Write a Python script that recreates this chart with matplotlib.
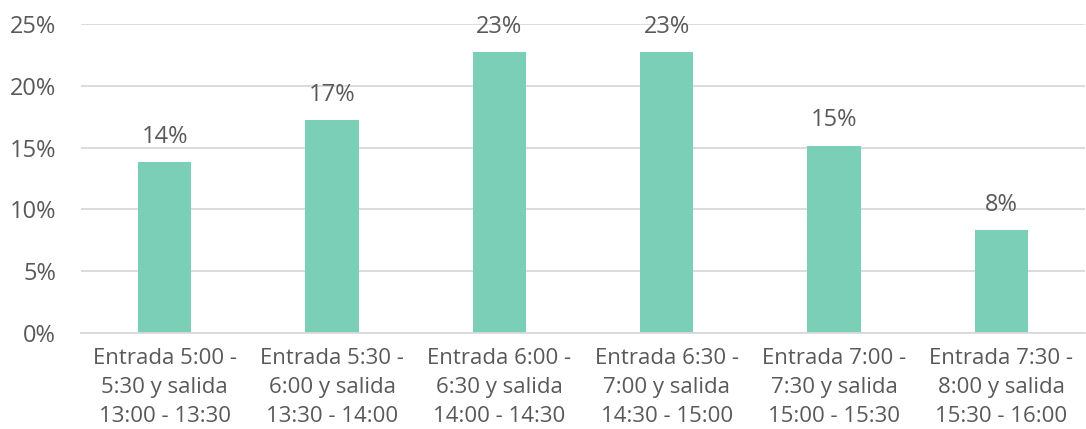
import matplotlib.pyplot as plt

plt.rcParams['font.family'] = ['Open Sans', 'DejaVu Sans']

# share of workers per shift window
categories = [
    "Entrada 5:00 -\n5:30 y salida\n13:00 - 13:30",
    "Entrada 5:30 -\n6:00 y salida\n13:30 - 14:00",
    "Entrada 6:00 -\n6:30 y salida\n14:00 - 14:30",
    "Entrada 6:30 -\n7:00 y salida\n14:30 - 15:00",
    "Entrada 7:00 -\n7:30 y salida\n15:00 - 15:30",
    "Entrada 7:30 -\n8:00 y salida\n15:30 - 16:00",
]
shares = [13.8, 17.2, 22.7, 22.7, 15.1, 8.3]
y_ticks = [0, 5, 10, 15, 20, 25]

text_color = "#595959"
bar_color = "#7bcfb7"
grid_color = "#d9d9d9"

fig = plt.figure(figsize=(10.86, 4.29), dpi=100)
ax = fig.add_axes([0.0746, 0.2238, 0.9245, 0.7202])

x = range(len(categories))
bars = ax.bar(x, shares, width=0.32, color=bar_color, zorder=2)

for rect, v in zip(bars, shares):
    ax.annotate(f"{v:.0f}%", (rect.get_x() + rect.get_width() / 2, v),
                xytext=(0, 10), textcoords="offset points",
                ha="center", va="bottom", fontsize=17, color=text_color)

ax.set_xlim(-0.5, len(categories) - 0.5)
ax.set_ylim(0, 25)
ax.set_yticks(y_ticks)
ax.set_yticklabels([f"{t}%" for t in y_ticks])
ax.set_xticks(list(x))
ax.set_xticklabels(categories, fontsize=16, color=text_color, linespacing=1.5)
ax.tick_params(axis="y", labelsize=17, labelcolor=text_color, length=0, pad=18)
ax.tick_params(axis="x", length=0, pad=11)

ax.grid(axis="y", color=grid_color, linewidth=1.3, zorder=0)
for side in ["top", "right", "left"]:
    ax.spines[side].set_visible(False)
ax.spines["bottom"].set_color(grid_color)
ax.spines["bottom"].set_linewidth(1.3)

fig.savefig("out.png", dpi=100)
